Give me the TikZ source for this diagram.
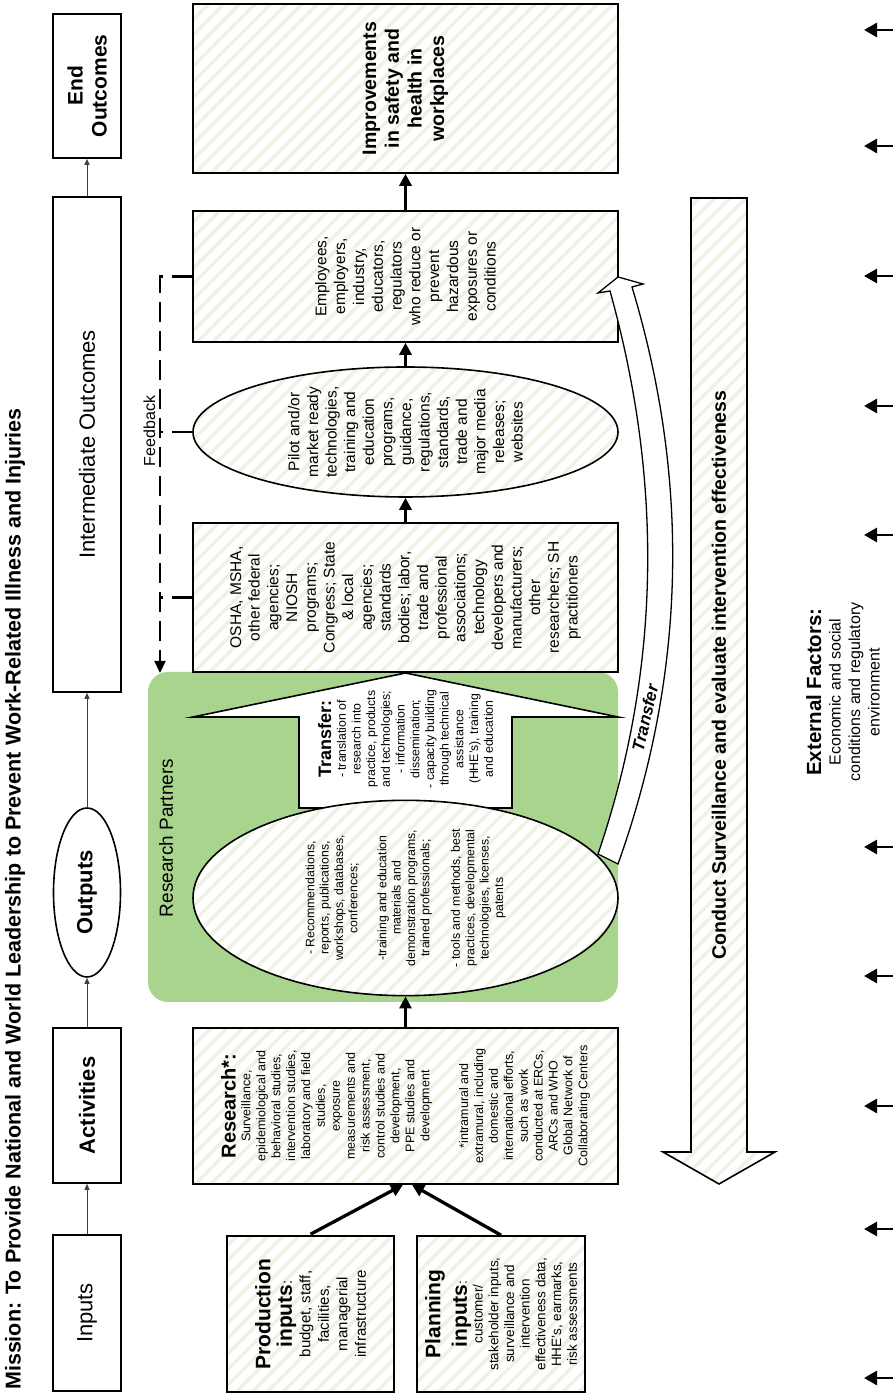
\documentclass[tikz,border=0pt]{standalone}
\usepackage{fontspec}
\setmainfont{Liberation Sans}
\usetikzlibrary{arrows.meta,patterns.meta,shapes.geometric}
\definecolor{rpgreen}{RGB}{168,212,141}
\definecolor{hatchcol}{RGB}{239,241,228}
\newcommand\myfs[2]{\fontsize{#1}{#2}\selectfont}
\tikzset{
 hatched/.style={preaction={fill=white},pattern={Lines[angle=45,distance=11pt,line width=3.5pt]},pattern color=hatchcol},
 box/.style={draw,line width=1.6pt,rectangle,inner sep=0pt,align=center},
 oval/.style={draw,line width=1.6pt,ellipse,inner sep=0pt,align=center},
 hdr/.style={box,fill=white,minimum height=68pt,font=\myfs{22}{24}},
 thinarrow/.style={draw=black!75,line width=0.9pt,-{Triangle[length=6pt,width=5pt]}},
 thickarrow/.style={line width=3.3pt,-{Triangle[length=12pt,width=12pt]}},
 sidearrow/.style={line width=2.7pt,-{Triangle[length=13pt,width=14pt]}},
 fb/.style={line width=2.3pt,dash pattern=on 20pt off 9pt},
}
\begin{document}
\begin{tikzpicture}[x=1pt,y=-1pt,rotate=90,transform shape]
\useasboundingbox (0,0) rectangle (1395,893);
\fill[white] (0,0) rectangle (1395,893);

% title
\node[anchor=west,inner sep=0pt,font=\myfs{21.5}{24}\bfseries] (title) at (5,15)
 {Mission: To Provide National and World Leadership to Prevent Work-Related Illness and Injuries};

% header row
\node[hdr,minimum width=156pt] (inputs) at (82,87) {Inputs};
\node[hdr,minimum width=155pt,font=\myfs{22}{24}\bfseries] (activities) at (289.5,87) {Activities};
\node[oval,fill=white,minimum width=169pt,minimum height=67pt,font=\myfs{22}{24}\bfseries] (outputsH) at (502.5,87) {Outputs};
\node[hdr,minimum width=495pt] (intermediate) at (950.5,87) {Intermediate Outcomes};
\node[hdr,minimum width=144pt,font=\myfs{21}{24}\bfseries] (endout) at (1309,87) {End\\Outcomes};
\draw[thinarrow] (inputs) -- (activities);
\draw[thinarrow] (activities) -- (outputsH);
\draw[thinarrow] (outputsH) -- (intermediate);
\draw[thinarrow] (intermediate) -- (endout);

% research partners area
\fill[rpgreen,rounded corners=20pt] (393,148) rectangle (723,618);
\node[font=\myfs{19}{22}] (rp) at (557,166) {Research Partners};

% transfer block arrow
\coordinate (ta1) at (587,299);
\coordinate (ta2) at (678,299);
\coordinate (ta3) at (678,193);
\coordinate (tatip) at (722,405.5);
\coordinate (ta5) at (678,618);
\coordinate (ta6) at (678,512);
\coordinate (ta7) at (587,512);
\draw[fill=white,line width=1.6pt,line join=miter] (ta1) -- (ta2) -- (ta3) -- (tatip) -- (ta5) -- (ta6) -- (ta7) -- cycle;
\node[align=center,inner sep=0pt,font=\myfs{12.3}{14.7}] (transfertxt) at (656,405.5)
 {{\myfs{18}{20}\bfseries Transfer:}\\- translation of\\research into\\practice, products\\and technologies;\\- information\\dissemination;\\- capacity building\\through technical\\assistance\\(HHE's), training\\and education};

% main column
\node[box,hatched,minimum width=156pt,minimum height=167pt,font=\myfs{15}{18.5}] (production) at (81,310.5)
 {{\myfs{21}{22}\bfseries Production}\\[3pt]{\myfs{21}{22}\bfseries inputs}:\\budget, staff,\\facilities,\\managerial\\infrastructure};
\node[box,hatched,minimum width=156pt,minimum height=168pt,font=\myfs{13.5}{15.7}] (planning) at (81,501)
 {{\myfs{21}{23}\bfseries Planning}\\[6pt]{\myfs{21}{23}\bfseries inputs}:\\customer/\\stakeholder inputs,\\surveillance and\\intervention\\effectiveness data,\\HHE's, earmarks,\\risk assessments};
\node[box,hatched,minimum width=156pt,minimum height=425pt,font=\myfs{12.5}{14.9}] (research) at (289,405.5)
 {{\myfs{20}{22}\bfseries Research*:}\\Surveillance,\\epidemiological and\\behavioral studies,\\intervention studies,\\laboratory and field\\studies,\\exposure\\measurements and\\risk assessment,\\control studies and\\development,\\PPE studies and\\development\\[24pt]*intramural and\\extramural, including\\domestic and\\international efforts,\\such as work\\conducted at ERCs,\\ARCs and WHO\\Global Network of\\Collaborating Centers};
\node[oval,hatched,minimum width=180pt,minimum height=425pt,font=\myfs{12.3}{14.4}] (outputs) at (497,405.5)
 {- Recommendations,\\reports, publications,\\workshops, databases,\\conferences;\\[14.4pt]-training and education\\materials and\\demonstration programs,\\trained professionals;\\[16pt]- tools and methods, best\\practices, developmental\\technologies, licenses,\\patents};
\node[box,hatched,minimum width=149pt,minimum height=425pt,font=\myfs{15.5}{18.7}] (osha) at (797.5,405.5)
 {OSHA, MSHA,\\other federal\\agencies;\\NIOSH\\programs;\\Congress; State\\\& local\\agencies;\\standards\\bodies; labor,\\trade and\\professional\\associations;\\technology\\developers and\\manufacturers;\\other\\researchers; SH\\practitioners};
\node[oval,hatched,minimum width=130pt,minimum height=425pt,font=\myfs{15.5}{18.6}] (pilot) at (963,405.5)
 {Pilot and/or\\market ready\\technologies,\\training and\\education\\programs,\\guidance,\\regulations,\\standards,\\trade and\\major media\\releases;\\websites};
\node[box,hatched,minimum width=131pt,minimum height=425pt,font=\myfs{15.5}{18.8}] (employees) at (1118.5,405.5)
 {Employees,\\employers,\\industry,\\educators,\\regulators\\who reduce or\\prevent\\hazardous\\exposures or\\conditions};
\node[box,hatched,minimum width=169pt,minimum height=425pt,font=\myfs{19.5}{22.7}\bfseries] (improve) at (1306.5,405.5)
 {Improvements\\in safety and\\health in\\workplaces};

\draw[thickarrow] (production.east) -- (research.west |- 0,403);
\draw[thickarrow] (planning.east) -- (research.west |- 0,412);
\draw[thickarrow] (research) -- (outputs);
\draw[thickarrow] (osha) -- (pilot);
\draw[thickarrow] (pilot) -- (employees);
\draw[thickarrow] (employees) -- (improve);

% curved transfer arrow
\coordinate (cb1) at (541,598);
\coordinate (ct1) at (1104,610);
\coordinate (ch1) at (1102,598);
\coordinate (chtip) at (1118,618);
\coordinate (ch2) at (1111,643);
\coordinate (ct2) at (1108,632);
\coordinate (cb2) at (531,618);
\draw[fill=white,line width=1.3pt,line join=miter] (cb1) .. controls (722.7,660) and (910.3,664) .. (ct1) -- (ch1) -- (chtip) -- (ch2) -- (ct2) .. controls (913.7,690.5) and (721.3,686) .. (cb2) -- cycle;
\node[rotate=-13,inner sep=0pt,font=\myfs{17}{20}\bfseries\itshape] (transferlbl) at (677,645) {Transfer};

% feedback
\coordinate (fbtop) at (1118.5,160);
\coordinate (fbend) at (722,160);
\draw[fb,-{Triangle[length=12pt,width=11pt]}] (employees.north) -- (fbtop) -- (fbend);
\draw[fb] (pilot.north) -- (pilot.north |- fbtop);
\draw[fb] (osha.north) -- (osha.north |- fbtop);
\node[anchor=base,inner sep=0pt,font=\myfs{16}{18}] (feedback) at (964,155) {Feedback};

% conduct surveillance arrow
\coordinate (cs1) at (1197,691);
\coordinate (cs2) at (243,691);
\coordinate (cs3) at (243,663);
\coordinate (cstip) at (211,719);
\coordinate (cs5) at (243,775);
\coordinate (cs6) at (243,747);
\coordinate (cs7) at (1197,747);
\draw[hatched,line width=1.6pt,line join=miter] (cs1) -- (cs2) -- (cs3) -- (cstip) -- (cs5) -- (cs6) -- (cs7) -- cycle;
\node[font=\myfs{19.5}{22}\bfseries] (conduct) at (720,719) {Conduct Surveillance and evaluate intervention effectiveness};

% external factors
\node[align=center,inner sep=0pt,font=\myfs{16}{19.5}] (external) at (703,843)
 {{\myfs{20.5}{23}\bfseries External Factors:}\\Economic and social\\conditions and regulatory\\environment};

\foreach \lx [count=\i] in {1365,1249,1119,989,860,548,419,289,166,17}{
 \coordinate (se\i) at (\lx,895);
 \coordinate (st\i) at (\lx,864);
 \draw[sidearrow] (se\i) -- (st\i);
}
\end{tikzpicture}
\end{document}
